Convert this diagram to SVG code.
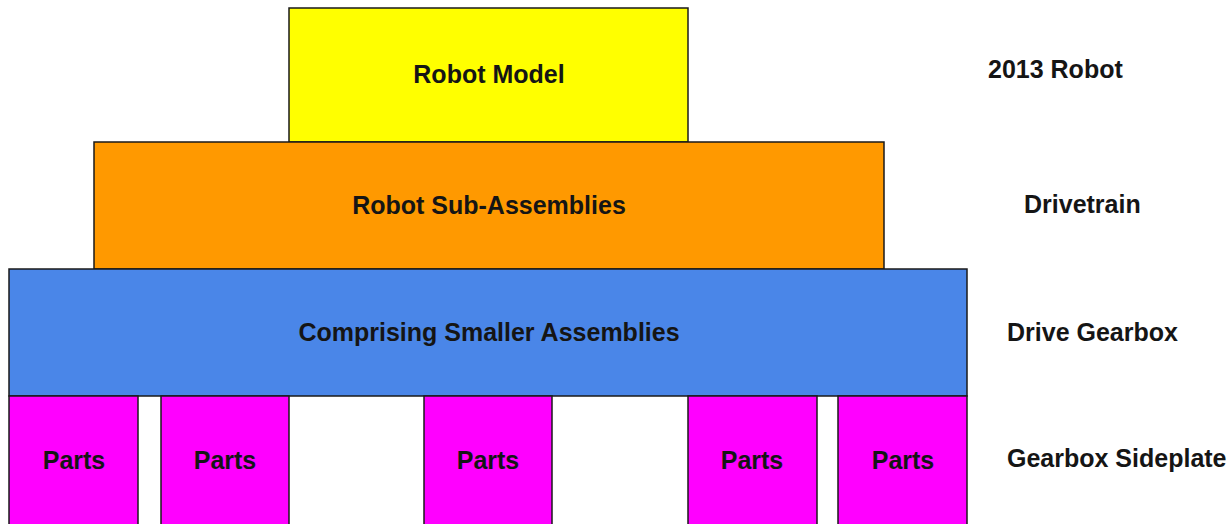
<svg xmlns="http://www.w3.org/2000/svg" width="1231" height="524" viewBox="0 0 1231 524">
  <style>
    .box { stroke: #1a1a1a; stroke-width: 1.5; }
    .lbl { font-family: "Liberation Sans", Arial, sans-serif; font-weight: bold; font-size: 25px; fill: #151515; }
    .mid { text-anchor: middle; }
    .yellow { fill: #ffff00; }
    .orange { fill: #ff9900; }
    .blue { fill: #4a86e8; }
    .magenta { fill: #ff00ff; }
  </style>
  <rect width="1231" height="524" fill="#ffffff"/>

  <!-- pyramid layers -->
  <g id="robot-model">
    <rect class="box yellow" x="289" y="8" width="399" height="134"/>
    <text class="lbl mid" x="489" y="83">Robot Model</text>
  </g>
  <g id="sub-assemblies">
    <rect class="box orange" x="94" y="142" width="790" height="127"/>
    <text class="lbl mid" x="489" y="214">Robot Sub-Assemblies</text>
  </g>
  <g id="smaller-assemblies">
    <rect class="box blue" x="9" y="269" width="958" height="127"/>
    <text class="lbl mid" x="489" y="341">Comprising Smaller Assemblies</text>
  </g>

  <!-- parts row -->
  <g id="parts-1">
    <rect class="box magenta" x="9" y="396" width="129" height="130"/>
    <text class="lbl mid" x="74" y="469">Parts</text>
  </g>
  <g id="parts-2">
    <rect class="box magenta" x="161" y="396" width="128" height="130"/>
    <text class="lbl mid" x="225" y="469">Parts</text>
  </g>
  <g id="parts-3">
    <rect class="box magenta" x="424" y="396" width="128" height="130"/>
    <text class="lbl mid" x="488" y="469">Parts</text>
  </g>
  <g id="parts-4">
    <rect class="box magenta" x="688" y="396" width="129" height="130"/>
    <text class="lbl mid" x="752" y="469">Parts</text>
  </g>
  <g id="parts-5">
    <rect class="box magenta" x="838" y="396" width="129" height="130"/>
    <text class="lbl mid" x="903" y="469">Parts</text>
  </g>

  <!-- example for each level -->
  <g id="example-labels">
    <text class="lbl" x="988" y="78">2013 Robot</text>
    <text class="lbl" x="1024" y="213">Drivetrain</text>
    <text class="lbl" x="1007" y="341">Drive Gearbox</text>
    <text class="lbl" x="1007" y="467">Gearbox Sideplate</text>
  </g>

  <g id="connectors"/>
</svg>
